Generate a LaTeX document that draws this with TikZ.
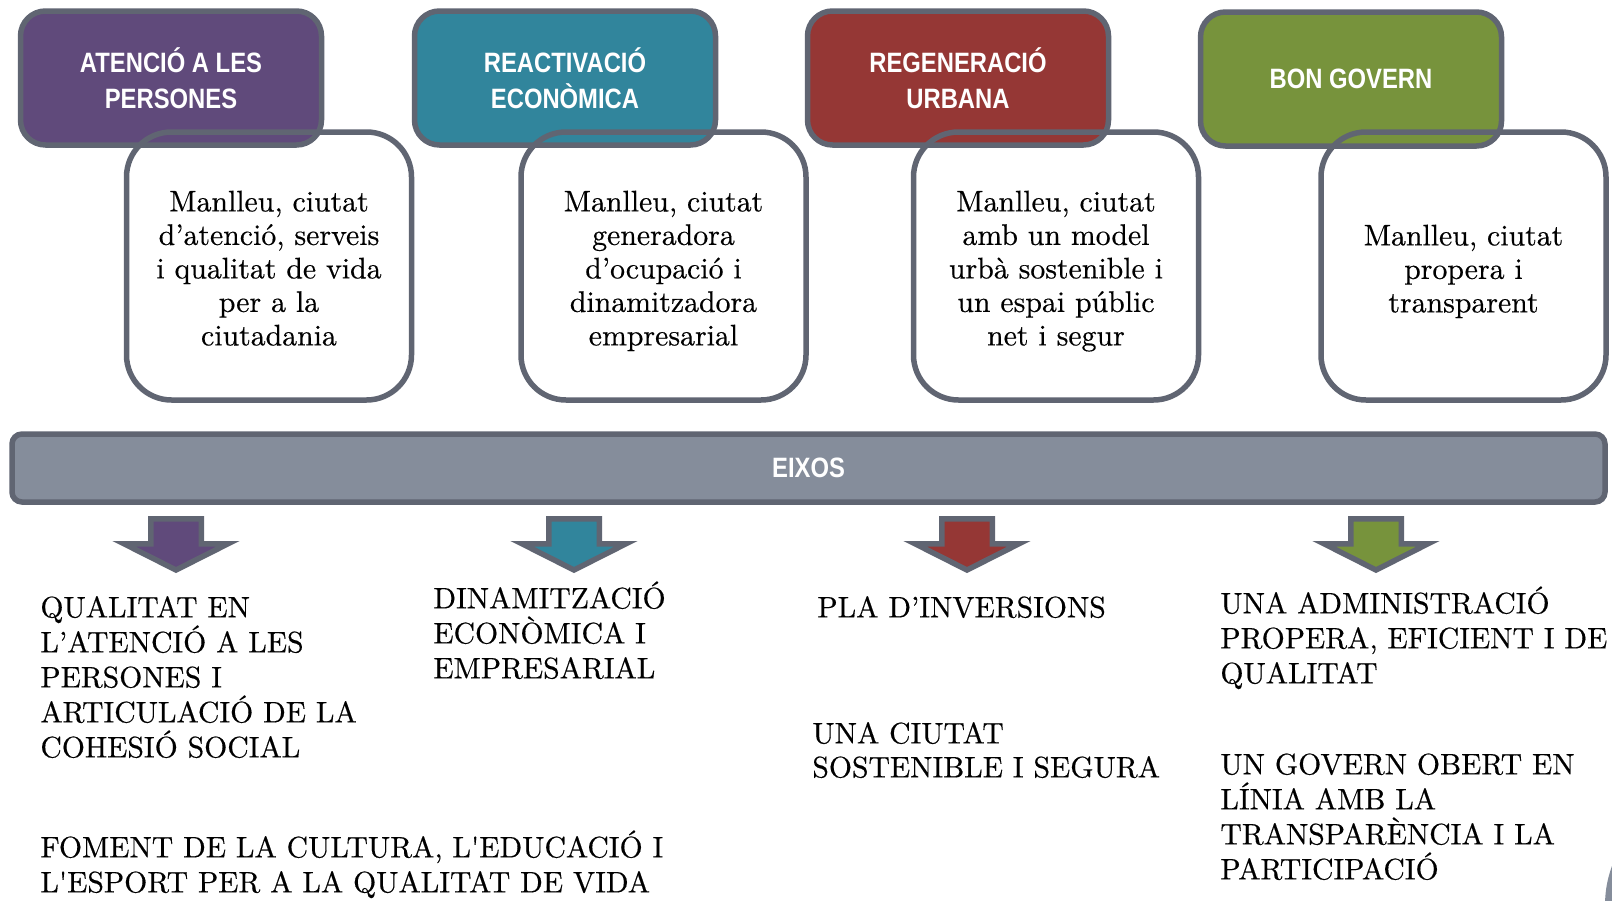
\documentclass[tikz,border=0pt]{standalone}
\usepackage{fontspec}
\newfontfamily\hdrfont[FakeStretch=0.85]{Liberation Sans}
\newfontfamily\bodyfont[FakeBold=0.4]{lmroman10-regular.otf}
\definecolor{bordergray}{RGB}{96,101,114}
\definecolor{purp}{RGB}{96,74,123}
\definecolor{tealc}{RGB}{49,133,156}
\definecolor{redc}{RGB}{149,55,53}
\definecolor{greenc}{RGB}{119,147,60}
\definecolor{barfill}{RGB}{133,141,155}
\tikzset{
  hdr/.style={draw=bordergray, line width=2.75pt, rounded corners=12.5pt,
    minimum width=150.5pt, minimum height=67pt, inner sep=0pt, outer sep=0pt,
    text=white, align=center, font=\hdrfont\bfseries\fontsize{14}{18}\selectfont},
  wline/.style={draw=bordergray, line width=2.75pt, rounded corners=22.5pt,
    minimum width=142.5pt, minimum height=134pt, inner sep=0pt, outer sep=0pt},
  wtext/.style={anchor=north, inner sep=0pt, align=center,
    font=\bodyfont\fontsize{14.9}{16.75}\selectfont},
  btext/.style={anchor=north west, inner sep=0pt, align=left,
    font=\bodyfont\fontsize{14.85}{17.5}\selectfont},
  barbox/.style={draw=bordergray, fill=barfill, line width=2.75pt, rounded corners=5pt,
    minimum width=796.5pt, minimum height=34pt, inner sep=0pt, outer sep=0pt,
    text=white, font=\hdrfont\bfseries\fontsize{14}{18}\selectfont},
  arrowshape/.style={draw=bordergray, line width=2.75pt}
}
\newcommand\eixarrow[2]{%
  \begin{scope}[shift={(#1,0)}]
    \draw[arrowshape, fill=#2] (-25.25,518.75) -- (25.25,518.75) -- (25.25,543.75)
      -- (52,543.75) -- (0,570) -- (-52,543.75) -- (-25.25,543.75) -- cycle;
  \end{scope}}
\newcommand\topstrut{\rule{0pt}{15pt}}
\begin{document}
\begin{tikzpicture}[x=0.5pt,y=-0.5pt]
\useasboundingbox (0,0) rectangle (1612,900);
\fill[white] (0,0) rectangle (1612,900);

% headers
\node[hdr, fill=purp]   (h1) at (171,78)  {ATENCIÓ A LES\\PERSONES};
\node[hdr, fill=tealc]  (h2) at (565,78)  {REACTIVACIÓ\\ECONÒMICA};
\node[hdr, fill=redc]   (h3) at (958,78)  {REGENERACIÓ\\URBANA};
\node[hdr, fill=greenc] (h4) at (1351,79) {BON GOVERN};

% white boxes (outline over headers)
\node[wline] (w1) at (269,266) {};
\node[wline] (w2) at (663.5,266) {};
\node[wline] (w3) at (1056,266) {};
\node[wline] (w4) at (1463.5,266) {};

\node[wtext] (t1) at (269,181) {\topstrut Manlleu, ciutat\\d’atenció, serveis\\i qualitat de vida\\per a la\\ciutadania};
\node[wtext] (t2) at (663.5,181) {\topstrut Manlleu, ciutat\\generadora\\d’ocupació i\\dinamitzadora\\empresarial};
\node[wtext] (t3) at (1056,181) {\topstrut Manlleu, ciutat\\amb un model\\urbà sostenible i\\un espai públic\\net i segur};
\node[wtext] (t4) at (1463.5,215) {\topstrut Manlleu, ciutat\\propera i\\transparent};

% bar
\node[barbox] (eixos) at (808.5,468) {EIXOS};

% arrows
\eixarrow{176}{purp}
\eixarrow{574}{tealc}
\eixarrow{967}{redc}
\eixarrow{1376}{greenc}

% bottom texts
\node[btext] (b1) at (40,587) {\topstrut QUALITAT EN\\L’ATENCIÓ A LES\\PERSONES I\\ARTICULACIÓ DE LA\\COHESIÓ SOCIAL};
\node[btext] (b2) at (433,578) {\topstrut DINAMITZACIÓ\\ECONÒMICA I\\EMPRESARIAL};
\node[btext] (b3) at (40,827) {\topstrut FOMENT DE LA CULTURA, L\textquotesingle EDUCACIÓ I\\L\textquotesingle ESPORT PER A LA QUALITAT DE VIDA};
\node[btext] (b4) at (817,587) {\topstrut PLA D’INVERSIONS};
\node[btext, font=\bodyfont\fontsize{14.85}{17}\selectfont] (b5) at (812,713) {\topstrut UNA CIUTAT\\SOSTENIBLE I SEGURA};
\node[btext] (b6) at (1220,583) {\topstrut UNA ADMINISTRACIÓ\\PROPERA, EFICIENT I DE\\QUALITAT};
\node[btext] (b7) at (1220,744) {\topstrut UN GOVERN OBERT EN\\LÍNIA AMB LA\\TRANSPARÈNCIA I LA\\PARTICIPACIÓ};

% partial shape at the lower right corner
\begin{scope}
  \clip (0,0) rectangle (1612,900);
  \fill[barfill] (1717,905) circle (112);
\end{scope}
\end{tikzpicture}
\end{document}
